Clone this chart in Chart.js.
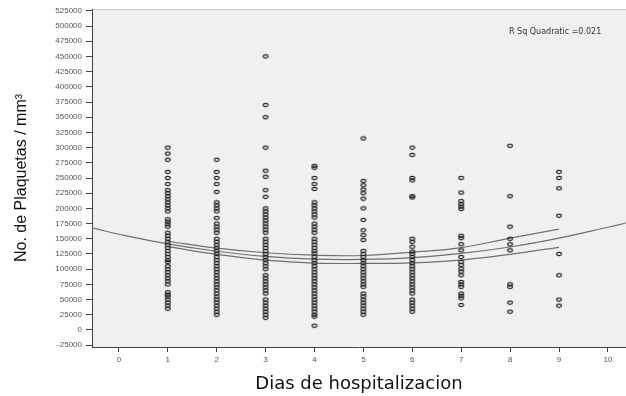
<!DOCTYPE html>
<html><head><meta charset="utf-8">
<script src="https://cdn.jsdelivr.net/npm/chart.js@4"></script>
<style>html,body{margin:0;padding:0;background:#fff}#wrap{width:626px;height:396px}</style>
</head><body><div id="wrap"><canvas id="c" width="626" height="396"></canvas></div>
<script>
// ---- data ----
const days = [1, 2, 3, 4, 5, 6, 7, 8, 9];
const dia1 = [300000, 290000, 280000, 260000, 250000, 240000, 230000, 225000, 220000, 215000, 210000, 205000, 200000, 195000, 182000, 178000, 174000, 170000, 160000, 155000, 150000, 145000, 140000, 135000, 130000, 125000, 120000, 115000, 112000, 105000, 100000, 95000, 90000, 85000, 80000, 75000, 62000, 58000, 55000, 50000, 45000, 40000, 35000];
const dia2 = [280000, 260000, 250000, 240000, 227000, 210000, 205000, 200000, 195000, 184000, 175000, 170000, 165000, 160000, 150000, 145000, 140000, 135000, 130000, 125000, 120000, 115000, 110000, 105000, 100000, 95000, 90000, 85000, 80000, 75000, 70000, 65000, 60000, 55000, 50000, 45000, 40000, 35000, 30000, 25000];
const dia3 = [450000, 370000, 350000, 300000, 262000, 252000, 230000, 219000, 200000, 195000, 190000, 185000, 180000, 175000, 170000, 165000, 160000, 150000, 145000, 140000, 135000, 130000, 125000, 120000, 115000, 110000, 105000, 100000, 90000, 85000, 80000, 75000, 70000, 65000, 60000, 50000, 45000, 40000, 35000, 30000, 25000, 20000];
const dia4 = [270000, 267000, 250000, 240000, 232000, 210000, 205000, 200000, 195000, 190000, 185000, 175000, 170000, 165000, 160000, 150000, 145000, 140000, 135000, 130000, 126000, 120000, 115000, 110000, 105000, 100000, 95000, 90000, 85000, 80000, 75000, 70000, 65000, 60000, 55000, 50000, 45000, 40000, 35000, 30000, 25000, 22000, 7000];
const dia5 = [315000, 245000, 238000, 231000, 225000, 216000, 200000, 181000, 164000, 156000, 148000, 130000, 125000, 120000, 115000, 110000, 105000, 100000, 95000, 90000, 85000, 80000, 75000, 71000, 60000, 55000, 50000, 45000, 40000, 35000, 30000, 25000];
const dia6 = [300000, 288000, 250000, 246000, 220000, 218000, 150000, 145000, 137000, 129000, 125000, 120000, 115000, 110000, 105000, 100000, 95000, 90000, 85000, 80000, 75000, 70000, 65000, 60000, 50000, 45000, 40000, 35000, 30000];
const dia7 = [250000, 226000, 212000, 207000, 203000, 199000, 155000, 151000, 141000, 131000, 120000, 112000, 107000, 101000, 96000, 90000, 79000, 75000, 71000, 60000, 56000, 52000, 41000];
const dia8 = [303000, 220000, 170000, 150000, 141000, 131000, 75000, 71000, 45000, 30000];
const dia9 = [260000, 250000, 233000, 188000, 125000, 90000, 50000, 40000];

// quadratic fit line and its band
const fitX = [-0.55, 0, 1, 2, 3, 4, 5, 6, 7, 8, 9, 10, 10.37];
const fitY = [168000, 157500, 141500, 129500, 121000, 116500, 116000, 119000, 126000, 136500, 151000, 169000, 176000];
const bandX = [1, 2, 3, 4, 5, 6, 7, 8, 9];
const bandUpper = [146000, 134500, 127000, 123000, 122500, 128000, 135500, 151000, 166000];
const bandLower = [137000, 124500, 115000, 110000, 109500, 110500, 115000, 124500, 136000];

const xTicks = [0, 1, 2, 3, 4, 5, 6, 7, 8, 9, 10];
const yTicks = [-25000, 0, 25000, 50000, 75000, 100000, 125000, 150000, 175000, 200000, 225000, 250000, 275000, 300000, 325000, 350000, 375000, 400000, 425000, 450000, 475000, 500000, 525000];
const xTitle = 'Dias de hospitalizacion';
const yTitle = 'No. de Plaquetas / mm³';
const rSqLabel = 'R Sq Quadratic =0.021';

// ---- build datasets ----
const groups = [dia1, dia2, dia3, dia4, dia5, dia6, dia7, dia8, dia9];
const scatterPts = [];
groups.forEach((vals, i) => vals.forEach(v => scatterPts.push({x: days[i], y: v})));
const toPts = (xs, ys) => xs.map((x, i) => ({x: x, y: ys[i]}));

// open elliptical marker
const mk = document.createElement('canvas');
mk.width = 8; mk.height = 6;
const g = mk.getContext('2d');
g.strokeStyle = '#222';
g.lineWidth = 1.1;
g.beginPath();
g.ellipse(4, 3, 2.4, 1.6, 0, 0, Math.PI * 2);
g.stroke();

const bgPlugin = {
  id: 'bg',
  beforeDraw(chart) {
    const {ctx, chartArea: a} = chart;
    ctx.save();
    ctx.fillStyle = '#ffffff';
    ctx.fillRect(0, 0, chart.width, chart.height);
    ctx.fillStyle = '#f0f0f0';
    ctx.fillRect(a.left, a.top, a.right - a.left, a.bottom - a.top);
    ctx.strokeStyle = '#c8c8c8';
    ctx.lineWidth = 1;
    ctx.beginPath();
    ctx.moveTo(a.left, a.top + 0.5);
    ctx.lineTo(a.right, a.top + 0.5);
    ctx.stroke();
    ctx.restore();
  },
  afterDatasetsDraw(chart) {
    const {ctx, chartArea: a} = chart;
    ctx.save();
    ctx.font = '8px "DejaVu Sans"';
    ctx.fillStyle = '#333';
    ctx.textAlign = 'left';
    ctx.textBaseline = 'middle';
    ctx.fillText(rSqLabel, a.right - 117, a.top + 23);
    ctx.restore();
  }
};

const lineStyle = {showLine: true, pointRadius: 0, borderColor: '#707070', borderWidth: 1.2, tension: 0.4, fill: false};

new Chart(document.getElementById('c'), {
  type: 'scatter',
  data: {
    datasets: [
      {label: 'Plaquetas', data: scatterPts, pointStyle: mk, pointRadius: 3, backgroundColor: 'transparent', borderColor: '#222'},
      Object.assign({label: 'Quadratic', data: toPts(fitX, fitY)}, lineStyle),
      Object.assign({label: 'Upper', data: toPts(bandX, bandUpper)}, lineStyle),
      Object.assign({label: 'Lower', data: toPts(bandX, bandLower)}, lineStyle)
    ]
  },
  options: {
    responsive: false,
    devicePixelRatio: 1,
    animation: false,
    events: [],
    layout: {autoPadding: false, padding: {top: 9, left: 0, right: 0, bottom: 0}},
    plugins: {legend: {display: false}, tooltip: {enabled: false}},
    scales: {
      x: {
        type: 'linear', min: -0.55, max: 10.37,
        afterBuildTicks: s => { s.ticks = xTicks.map(v => ({value: v})); },
        afterFit: s => { s.height = 49; },
        ticks: {font: {size: 8, family: 'Liberation Sans'}, color: '#555', padding: 3, callback: v => String(v)},
        grid: {drawOnChartArea: false, drawTicks: true, tickLength: 5, tickColor: '#444'},
        border: {display: true, color: '#444', width: 1},
        title: {display: true, text: xTitle, font: {size: 18, family: 'DejaVu Sans'}, color: '#111', padding: {top: 0, bottom: 1}}
      },
      y: {
        type: 'linear', min: -28000, max: 528000,
        afterBuildTicks: s => { s.ticks = yTicks.map(v => ({value: v})); },
        afterFit: s => { s.width = 92; },
        ticks: {font: {size: 8, family: 'Liberation Sans'}, color: '#555', padding: 4, callback: v => String(v)},
        grid: {drawOnChartArea: false, drawTicks: true, tickLength: 6, tickColor: '#444'},
        border: {display: true, color: '#444', width: 1},
        title: {display: true, text: yTitle, font: {size: 16, family: 'Liberation Sans'}, color: '#111', padding: {top: 12, bottom: 0}}
      }
    }
  },
  plugins: [bgPlugin]
});
</script>
</body></html>
